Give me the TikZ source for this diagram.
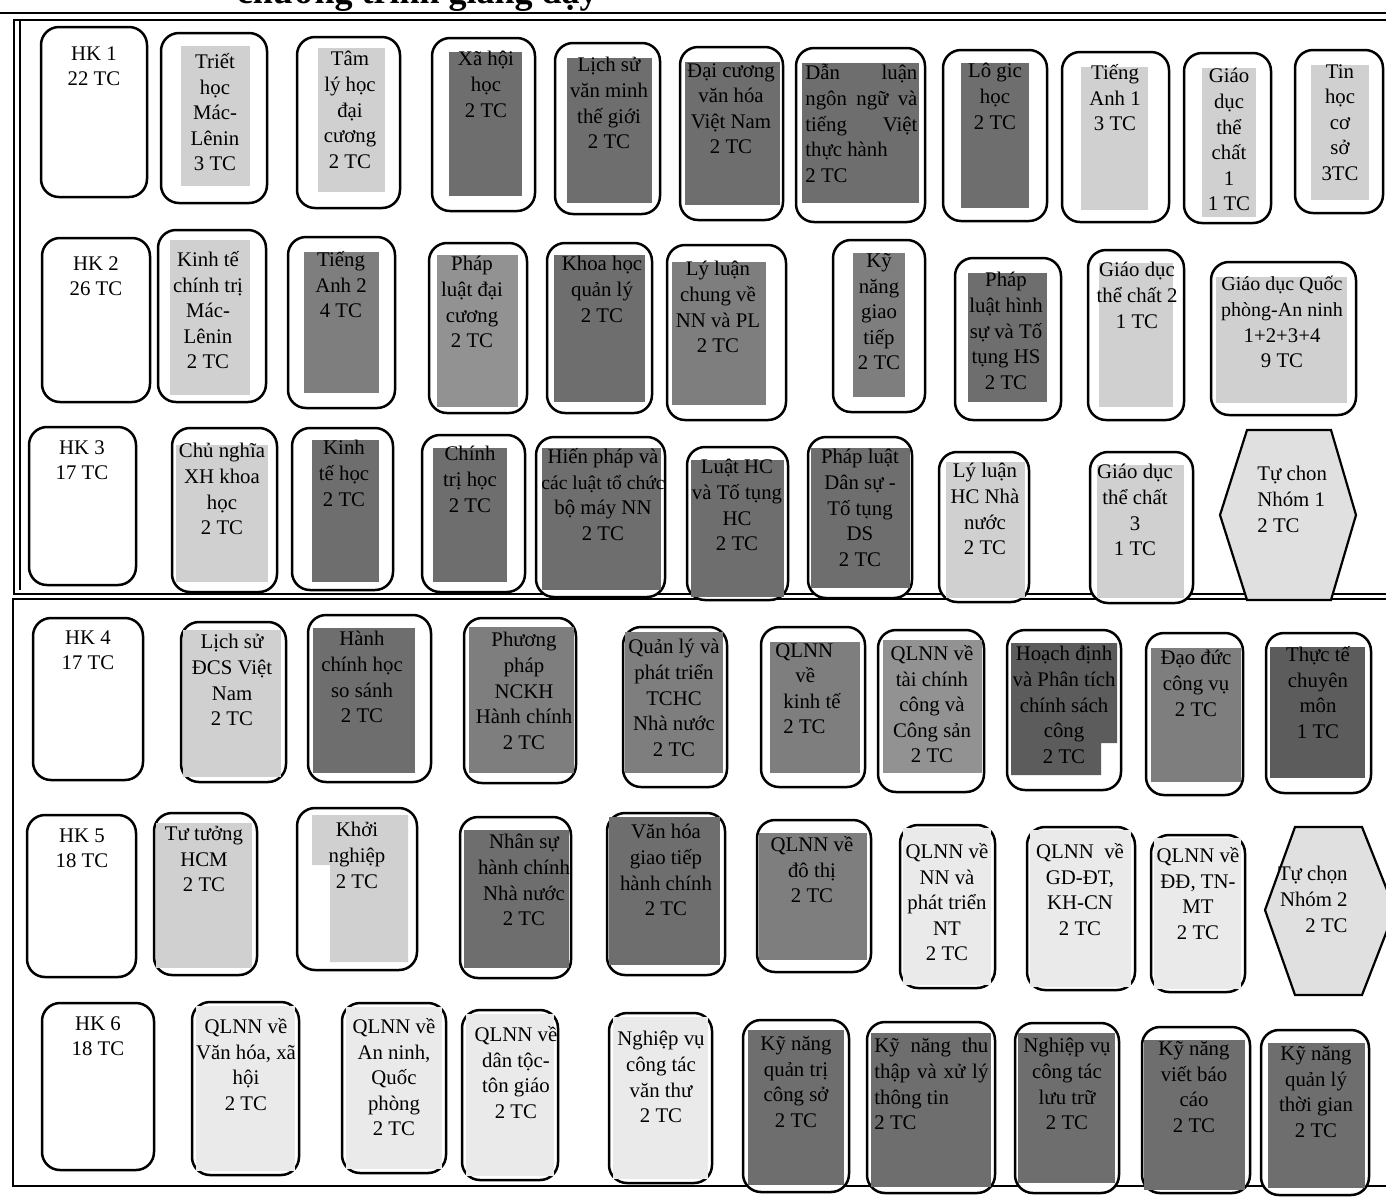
\documentclass[tikz,border=0pt]{standalone}
\usepackage{fontspec}
\setmainfont{Liberation Serif}
\definecolor{cL}{HTML}{D0D0D0}
\definecolor{cV}{HTML}{EAEAEA}
\definecolor{cH}{HTML}{E0E0E0}
\definecolor{cM}{HTML}{929292}
\definecolor{cD}{HTML}{7E7E7E}
\definecolor{cK}{HTML}{6E6E6E}
\definecolor{cX}{HTML}{5C5C5C}
\tikzset{
  obox/.style={draw=black, line width=1.25pt, rounded corners=9pt, fill=white},
  hexa/.style={draw=black, line width=1.1pt, fill=cH},
  frameline/.style={draw=black, line width=1pt},
  txt/.style={font=\fontsize{10.4}{12.8}\selectfont, align=center, inner sep=0pt, anchor=north, execute at begin node=\strut},
}
\newcommand\crs[7]{%
  \draw[obox] (#2) rectangle (#3);
  \fill[#5] #4;
  \node[txt] (#1) at (#6) {#7};
}
\newcommand\jl[2]{\makebox[#1][s]{#2}}
\begin{document}
\begin{tikzpicture}[x=0.5pt,y=-0.5pt]
\useasboundingbox (0,0) rectangle (1386,1196);
% title (clipped at top, as in the scan)
\node[font=\bfseries\fontsize{18}{20}\selectfont, anchor=base east, inner sep=0pt] (title) at (598,3) {chương trình giảng dạy};
% frames
\draw[frameline, line width=1.3pt] (0,13) -- (1392,13);
\draw[frameline] (14,20) rectangle (1392,594);
\draw[frameline] (20,20) -- (20,590);
\draw[frameline] (13,599) rectangle (1392,1186);

% ---------------- HK 1
\draw[obox] (41,27) rectangle (147,197);
\node[txt] (hk1) at (94,46) {HK 1\\22 TC};
\crs{r1a}{161,33}{267,203}{(181,46) rectangle (250,186)}{cL}{215,53}{Triết\\học\\Mác-\\Lênin\\3 TC}
\crs{r1b}{297,37}{400,208}{(318,48) rectangle (385,192)}{cL}{350,51}{Tâm\\lý học\\đại\\cương\\2 TC}
\crs{r1c}{432,38}{535,211}{(449,52) rectangle (522,196)}{cK}{486,51}{Xã hội\\học\\2 TC}
\crs{r1d}{555,43}{660,214}{(567,58) rectangle (652,203)}{cK}{609,57}{Lịch sử\\văn minh\\thế giới\\2 TC}
\crs{r1e}{680,47}{783,220}{(685,62) rectangle (780,205)}{cK}{731,63}{Đại cương\\văn hóa\\Việt Nam\\2 TC}
\draw[obox] (796,48) rectangle (925,222);
\fill[cK] (802,63) rectangle (919,203);
\node[txt, align=left, anchor=north west] (r1f) at (805,64) {\jl{56pt}{Dẫn luận}\\\jl{56pt}{ngôn ngữ và}\\\jl{56pt}{tiếng Việt}\\thực hành\\2 TC};
\crs{r1g}{943,50}{1047,221}{(961,63) rectangle (1029,208)}{cK}{995,63}{Lô gic\\học\\2 TC}
\crs{r1h}{1062,52}{1169,222}{(1081,67) rectangle (1148,210)}{cL}{1115,64}{Tiếng\\Anh 1\\3 TC}
\crs{r1i}{1184,53}{1271,223}{(1202,68) rectangle (1256,217)}{cL}{1229,68}{Giáo\\dục\\thể\\chất\\1\\1 TC}
\crs{r1j}{1295,50}{1383,213}{(1311,65) rectangle (1369,200)}{cL}{1340,64}{Tin\\học\\cơ\\sở\\3TC}

% ---------------- HK 2
\draw[obox] (42,238) rectangle (150,402);
\node[txt] (hk2) at (96,256) {HK 2\\26 TC};
\crs{r2a}{158,230}{266,402}{(170,240) rectangle (250,395)}{cL}{208,251}{Kinh tế\\chính trị\\Mác-\\Lênin\\2 TC}
\crs{r2b}{288,237}{395,408}{(304,252) rectangle (379,393)}{cD}{341,251}{Tiếng\\Anh 2\\4 TC}
\crs{r2c}{429,243}{527,413}{(437,255) rectangle (518,407)}{cM}{472,256}{Pháp\\luật đại\\cương\\2 TC}
\crs{r2d}{547,243}{652,413}{(554,255) rectangle (645,402)}{cK}{602,256}{Khoa học\\quản lý\\2 TC}
\crs{r2e}{667,245}{786,420}{(672,262) rectangle (766,405)}{cD}{718,261}{Lý luận\\chung về\\NN và PL\\2 TC}
\crs{r2f}{833,240}{925,412}{(853,253) rectangle (905,397)}{cD}{879,253}{Kỹ\\năng\\giao\\tiếp\\2 TC}
\crs{r2g}{955,258}{1061,420}{(968,273) rectangle (1047,402)}{cK}{1006,272}{Pháp\\luật hình\\sự và Tố\\tụng HS\\2 TC}
\crs{r2h}{1088,250}{1184,420}{(1099,263) rectangle (1173,407)}{cL}{1137,262}{Giáo dục\\thể chất 2\\1 TC}
\crs{r2i}{1211,262}{1356,415}{(1216,277) rectangle (1347,403)}{cL}{1282,276}{\fontsize{10}{12.8}\selectfont Giáo dục Quốc\\\fontsize{10}{12.8}\selectfont phòng-An ninh\\1+2+3+4\\9 TC}

% ---------------- HK 3
\draw[obox] (29,427) rectangle (136,585);
\node[txt] (hk3) at (82,440) {HK 3\\17 TC};
\crs{r3a}{172,428}{277,592}{(176,445) rectangle (268,582)}{cL}{222,443}{Chủ nghĩa\\XH khoa\\học\\2 TC}
\crs{r3b}{292,428}{393,590}{(312,440) rectangle (379,582)}{cK}{344,440}{Kinh\\tế học\\2 TC}
\crs{r3c}{422,435}{525,592}{(433,448) rectangle (507,582)}{cK}{470,446}{Chính\\trị học\\2 TC}
\crs{r3d}{536,437}{665,597}{(542,448) rectangle (661,590)}{cK}{603,448}{Hiến pháp và\\\fontsize{9.8}{12.8}\selectfont các luật tổ chức\\bộ máy NN\\2 TC}
\crs{r3e}{687,447}{788,600}{(691,460) rectangle (784,597)}{cK}{737,459}{Luật HC\\và Tố tụng\\HC\\2 TC}
\crs{r3f}{808,437}{912,598}{(811,448) rectangle (910,588)}{cK}{860,449}{Pháp luật\\Dân sự -\\Tố tụng\\DS\\2 TC}
\crs{r3g}{939,452}{1029,602}{(946,462) rectangle (1025,598)}{cL}{985,463}{Lý luận\\HC Nhà\\nước\\2 TC}
\crs{r3h}{1090,452}{1193,603}{(1097,465) rectangle (1184,598)}{cL}{1135,464}{Giáo dục\\thể chất\\3\\1 TC}
\draw[hexa] (1247,430) -- (1331,430) -- (1356,515) -- (1331,600) -- (1247,600) -- (1220,515) -- cycle;
\node[txt, align=left, anchor=north west] (r3i) at (1257,466) {Tự chon\\Nhóm 1\\2 TC};

% ---------------- HK 4
\draw[obox] (33,618) rectangle (143,780);
\node[txt] (hk4) at (88,630) {HK 4\\17 TC};
\crs{r4a}{181,622}{286,782}{(183,630) rectangle (281,777)}{cL}{232,634}{Lịch sử\\ĐCS Việt\\Nam\\2 TC}
\crs{r4b}{308,615}{431,782}{(313,628) rectangle (415,773)}{cK}{362,631}{Hành\\chính học\\so sánh\\2 TC}
\crs{r4c}{464,618}{576,783}{(469,627) rectangle (574,773)}{cD}{524,632}{Phương\\pháp\\NCKH\\Hành chính\\2 TC}
\crs{r4d}{623,627}{727,787}{(625,632) rectangle (723,773)}{cD}{674,639}{Quản lý và\\phát triển\\TCHC\\Nhà nước\\2 TC}
\draw[obox] (761,627) rectangle (865,787);
\fill[cD] (770,642) rectangle (860,773);
\node[txt, align=left, anchor=north west] (r4e) at (775,643) {QLNN\\\hspace*{10pt}về\\\hspace*{4pt}kinh tế\\\hspace*{4pt}2 TC};
\crs{r4f}{878,630}{984,792}{(883,640) rectangle (982,773)}{cM}{932,645}{QLNN về\\tài chính\\công và\\Công sản\\2 TC}
\draw[obox] (1007,630) rectangle (1121,790);
\fill[cX] (1011,643) -- (1117,643) -- (1117,743) -- (1101,743) -- (1101,775) -- (1011,775) -- cycle;
\node[txt] (r4g) at (1064,646) {Hoạch định\\và Phân tích\\chính sách\\công\\2 TC};
\crs{r4h}{1146,633}{1243,795}{(1151,648) rectangle (1241,782)}{cD}{1196,650}{Đạo đức\\công vụ\\2 TC}
\crs{r4i}{1266,633}{1371,793}{(1270,647) rectangle (1365,778)}{cX}{1318,646}{Thực tế\\chuyên\\môn\\1 TC}

% ---------------- HK 5
\draw[obox] (27,815) rectangle (136,977);
\node[txt] (hk5) at (82,828) {HK 5\\18 TC};
\crs{r5a}{154,813}{257,975}{(156,823) rectangle (252,968)}{cL}{204,826}{Tư tưởng\\HCM\\2 TC}
\draw[obox] (297,808) rectangle (417,970);
\fill[cL] (312,815) -- (408,815) -- (408,962) -- (330,962) -- (330,865) -- (312,865) -- cycle;
\node[txt] (r5b) at (357,822) {Khởi\\nghiệp\\2 TC};
\crs{r5c}{460,817}{571,978}{(464,830) rectangle (569,968)}{cK}{524,834}{Nhân sự\\hành chính\\Nhà nước\\2 TC}
\crs{r5d}{607,813}{725,975}{(609,817) rectangle (720,965)}{cK}{666,824}{Văn hóa\\giao tiếp\\hành chính\\2 TC}
\crs{r5e}{757,820}{871,972}{(759,833) rectangle (867,960)}{cD}{812,836}{QLNN về\\đô thị\\2 TC}
\crs{r5f}{900,825}{995,988}{(903,828) rectangle (991,985)}{cV}{947,843}{QLNN về\\NN và\\phát triển\\NT\\2 TC}
\crs{r5g}{1027,827}{1135,990}{(1030,830) rectangle (1131,987)}{cV}{1080,843}{QLNN\ \ về\\GD-ĐT,\\KH-CN\\2 TC}
\crs{r5h}{1151,835}{1245,992}{(1154,838) rectangle (1241,989)}{cV}{1198,847}{QLNN về\\ĐĐ, TN-\\MT\\2 TC}
\draw[hexa] (1295,827) -- (1362,827) -- (1395,910) -- (1362,995) -- (1295,995) -- (1265,910) -- cycle;
\node[txt, align=right, anchor=north east] (r5i) at (1348,866) {Tự chọn\\Nhóm 2\\2 TC};

% ---------------- HK 6
\draw[obox] (42,1003) rectangle (154,1170);
\node[txt] (hk6) at (98,1016) {HK 6\\18 TC};
\crs{r6a}{192,1002}{299,1175}{(196,1006) rectangle (295,1171)}{cV}{246,1018}{QLNN về\\Văn hóa, xã\\hội\\2 TC}
\crs{r6b}{342,1003}{446,1173}{(346,1007) rectangle (442,1169)}{cV}{394,1018}{QLNN về\\An ninh,\\Quốc\\phòng\\2 TC}
\crs{r6c}{462,1010}{558,1180}{(466,1014) rectangle (554,1176)}{cV}{516,1026}{QLNN về\\dân tộc-\\tôn giáo\\2 TC}
\crs{r6d}{609,1013}{712,1183}{(613,1017) rectangle (708,1179)}{cV}{661,1031}{Nghiệp vụ\\công tác\\văn thư\\2 TC}
\crs{r6e}{743,1020}{849,1192}{(748,1030) rectangle (844,1185)}{cK}{796,1036}{Kỹ năng\\quản trị\\công sở\\2 TC}
\draw[obox] (867,1022) rectangle (995,1193);
\fill[cK] (871,1033) rectangle (991,1187);
\node[txt, align=left, anchor=north west] (r6f) at (874,1038) {\jl{57pt}{Kỹ năng thu}\\\jl{57pt}{thập và xử lý}\\thông tin\\2 TC};
\crs{r6g}{1015,1023}{1119,1193}{(1018,1033) rectangle (1115,1183)}{cK}{1067,1038}{Nghiệp vụ\\công tác\\lưu trữ\\2 TC}
\crs{r6h}{1142,1027}{1250,1193}{(1144,1040) rectangle (1245,1190)}{cK}{1194,1041}{Kỹ năng\\viết báo\\cáo\\2 TC}
\crs{r6i}{1261,1030}{1369,1195}{(1268,1043) rectangle (1365,1188)}{cK}{1316,1046}{Kỹ năng\\quản lý\\thời gian\\2 TC}
\end{tikzpicture}
\end{document}
